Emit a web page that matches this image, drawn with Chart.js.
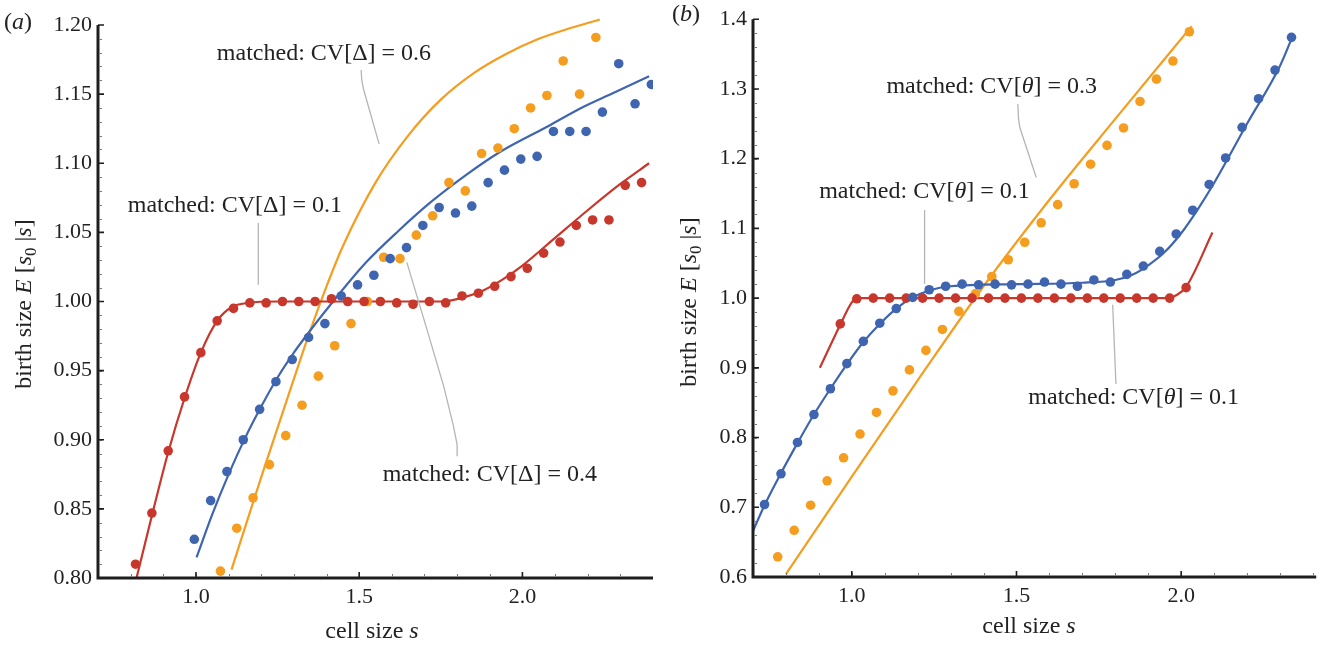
<!DOCTYPE html>
<html>
<head>
<meta charset="utf-8">
<script src="https://cdn.jsdelivr.net/npm/chart.js@4"></script>
<style>
  html, body { margin: 0; padding: 0; background: #fff; }
  #wrap { position: relative; width: 1321px; height: 645px; }
  .panel { position: absolute; top: 0; height: 645px; }
  #pa { left: 0; width: 660px; }
  #pb { left: 660px; width: 661px; }
</style>
</head>
<body>
<div id="wrap">
  <div class="panel" id="pa"><canvas id="chartA"></canvas></div>
  <div class="panel" id="pb"><canvas id="chartB"></canvas></div>
</div>
<script>
// ---- panel (a): dots = simulation, lines = matched model ----
const aRedS = [0.815,0.865,0.915,0.965,1.015,1.065,1.115,1.165,1.215,1.265,1.315,1.365,1.415,1.465,1.515,1.565,
               1.615,1.665,1.715,1.765,1.815,1.865,1.915,1.965,2.015,2.065,2.115,2.165,2.215,2.265,2.315,2.365];
const aRedE = [0.810,0.847,0.892,0.931,0.963,0.986,0.995,0.999,0.999,1.000,1.000,1.000,1.002,1.000,1.000,1.000,
               0.999,0.998,1.000,0.999,1.004,1.006,1.011,1.018,1.024,1.035,1.043,1.055,1.059,1.059,1.084,1.086];
const aRedLineS = [0.818,0.865,0.915,0.965,1.015,1.065,1.11,1.16,1.25,1.5,1.75,1.82,1.88,1.94,2.0,2.1,2.2,2.3,2.388];
const aRedLineE = [0.800,0.845,0.891,0.930,0.963,0.986,0.996,0.999,1.000,1.000,1.000,1.003,1.008,1.016,1.026,1.046,1.066,1.085,1.100];

const aBlueS = [0.995,1.045,1.095,1.145,1.195,1.245,1.295,1.345,1.395,1.445,1.495,1.545,1.595,1.645,1.695,
                1.745,1.795,1.845,1.895,1.945,1.995,2.045,2.095,2.145,2.195,2.245,2.295,2.345,2.395];
const aBlueE = [0.828,0.856,0.877,0.900,0.922,0.942,0.958,0.974,0.984,1.004,1.012,1.019,1.031,1.039,1.055,
                1.068,1.064,1.069,1.086,1.095,1.103,1.105,1.123,1.123,1.123,1.137,1.172,1.143,1.157];
const aBlueLineS = [1.002,1.05,1.1,1.15,1.2,1.25,1.3,1.35,1.42,1.52,1.62,1.72,1.83,1.93,2.08,2.18,2.28,2.388];
const aBlueLineE = [0.815,0.846,0.875,0.901,0.924,0.945,0.963,0.979,1.000,1.028,1.051,1.072,1.092,1.108,1.127,1.140,1.151,1.163];

const aOrS = [1.075,1.125,1.175,1.225,1.275,1.325,1.375,1.425,1.475,1.525,1.575,1.625,
              1.675,1.725,1.775,1.825,1.875,1.925,1.975,2.025,2.075,2.125,2.175,2.225];
const aOrE = [0.805,0.836,0.858,0.882,0.903,0.925,0.946,0.968,0.984,1.000,1.032,1.031,
              1.048,1.062,1.086,1.080,1.107,1.111,1.125,1.140,1.149,1.174,1.150,1.191];
const aOrLineS = [1.109,1.2,1.3,1.35,1.4,1.45,1.55,1.65,1.75,1.85,1.95,2.05,2.15,2.237];
const aOrLineE = [0.806,0.873,0.944,0.979,1.011,1.040,1.086,1.120,1.146,1.165,1.179,1.190,1.198,1.204];

// ---- panel (b) ----
const bBlueS = [0.735,0.785,0.835,0.885,0.935,0.985,1.035,1.085,1.135,1.185,1.235,1.285,1.335,1.385,1.435,1.485,1.535,
                1.585,1.635,1.685,1.735,1.785,1.835,1.885,1.935,1.985,2.035,2.085,2.135,2.185,2.235,2.285,2.335];
const bBlueE = [0.704,0.748,0.793,0.833,0.870,0.906,0.938,0.964,0.985,1.001,1.012,1.017,1.020,1.019,1.020,1.019,1.020,
                1.023,1.020,1.017,1.026,1.023,1.034,1.046,1.067,1.092,1.126,1.163,1.201,1.245,1.286,1.327,1.374];
const bBlueLineS = [0.70,0.735,0.785,0.835,0.885,0.935,0.985,1.035,1.085,1.135,1.185,1.235,1.3,1.5,1.7,1.8,1.85,1.9,1.95,2.0,2.05,2.1,2.2,2.3,2.337];
const bBlueLineE = [0.666,0.703,0.749,0.792,0.833,0.870,0.905,0.937,0.963,0.985,1.001,1.011,1.017,1.020,1.022,1.026,1.033,1.047,1.066,1.093,1.127,1.165,1.250,1.333,1.374];

const bRedS = [0.965,1.015,1.065,1.115,1.165,1.215,1.265,1.315,1.365,1.415,1.465,1.515,1.565,1.615,1.665,1.715,1.765,1.815,1.865,1.915,1.965,2.015];
const bRedE = [0.963,0.999,1.000,1.000,1.000,1.000,1.000,1.000,1.000,1.000,1.000,1.000,1.000,1.000,1.000,1.000,1.000,1.000,1.000,1.000,1.000,1.015];
const bRedLineS = [0.903,0.966,1.0,1.015,1.05,1.5,1.96,1.985,2.015,2.095];
const bRedLineE = [0.900,0.963,0.994,1.000,1.000,1.000,1.000,1.004,1.016,1.094];

const bOrS = [0.775,0.825,0.875,0.925,0.975,1.025,1.075,1.125,1.175,1.225,1.275,1.325,1.375,
              1.425,1.475,1.525,1.575,1.625,1.675,1.725,1.775,1.825,1.875,1.925,1.975,2.025];
const bOrE = [0.629,0.667,0.703,0.738,0.771,0.805,0.836,0.867,0.897,0.925,0.955,0.981,1.006,
              1.031,1.055,1.080,1.108,1.134,1.164,1.192,1.219,1.244,1.282,1.314,1.340,1.382];
const bOrLineS = [0.80,1.0,1.2,1.4,1.6,1.8,2.032];
const bOrLineE = [0.604,0.744,0.882,1.017,1.141,1.257,1.390];

// ---- ticks ----
const xTicks = [1.0, 1.5, 2.0];
const xLabels = ['1.0', '1.5', '2.0'];
const yTicksA = [0.80,0.85,0.90,0.95,1.00,1.05,1.10,1.15,1.20];
const yLabelsA = ['0.80','0.85','0.90','0.95','1.00','1.05','1.10','1.15','1.20'];
const yTicksB = [0.6,0.7,0.8,0.9,1.0,1.1,1.2,1.3,1.4];
const yLabelsB = ['0.6','0.7','0.8','0.9','1.0','1.1','1.2','1.3','1.4'];

const RED = '#c8372b', BLUE = '#3f65b0', ORANGE = '#f59d1e';
const SERIF = '"Liberation Serif", "Times New Roman", serif';

function pts(xs, ys) { return xs.map((x, i) => ({ x: x, y: ys[i] })); }

function dots(xs, ys, color) {
    return { data: pts(xs, ys), backgroundColor: color, borderWidth: 0, pointRadius: 4.8, showLine: false };
}
function curve(xs, ys, color, extra) {
    return Object.assign({ data: pts(xs, ys), borderColor: color, borderWidth: 2.2, pointRadius: 0,
        showLine: true, fill: false, cubicInterpolationMode: 'monotone' }, extra || {});
}

// draws text made of pieces: n = upright, i = italic, s = subscript
function drawRich(ctx, x, y, parts, size, align) {
    const fonts = { n: size + 'px ' + SERIF, i: 'italic ' + size + 'px ' + SERIF, s: Math.round(size * 0.7) + 'px ' + SERIF };
    let total = 0;
    const widths = parts.map(p => { ctx.font = fonts[p[1]]; const w = ctx.measureText(p[0]).width; total += w; return w; });
    let cx = align === 'center' ? x - total / 2 : x;
    parts.forEach((p, i) => {
        ctx.font = fonts[p[1]];
        ctx.fillText(p[0], cx, p[1] === 's' ? y + size * 0.22 : y);
        cx += widths[i];
    });
}

const yTitle = [['birth size ', 'n'], ['E', 'i'], [' [', 'n'], ['s', 'i'], ['0', 's'], [' |', 'n'], ['s', 'i'], [']', 'n']];
const xTitle = [['cell size ', 'n'], ['s', 'i']];

function makeOverlay(cfg) {
    return {
        id: 'overlay',
        afterDatasetsDraw(chart) {
            const ctx = chart.ctx, xs = chart.scales.x, ys = chart.scales.y, area = chart.chartArea;
            ctx.save();
            // leader lines
            ctx.strokeStyle = '#b5b5b5';
            ctx.lineWidth = 1.3;
            cfg.leaders.forEach(line => {
                ctx.beginPath();
                line.forEach((p, i) => {
                    const px = xs.getPixelForValue(p[0]), py = ys.getPixelForValue(p[1]);
                    if (i === 0) ctx.moveTo(px, py); else ctx.lineTo(px, py);
                });
                ctx.stroke();
            });
            // axis lines
            ctx.strokeStyle = '#1e1e1e';
            ctx.lineWidth = 3;
            ctx.beginPath();
            ctx.moveTo(area.left, area.top);
            ctx.lineTo(area.left, area.bottom);
            ctx.lineTo(area.right, area.bottom);
            ctx.stroke();
            // minor ticks
            ctx.strokeStyle = '#777';
            ctx.lineWidth = 1;
            ctx.beginPath();
            for (let v = cfg.xMin + cfg.xMinor; v < cfg.xMax - 1e-9; v += cfg.xMinor) {
                const px = Math.round(xs.getPixelForValue(v)) + 0.5;
                ctx.moveTo(px, area.bottom - 1.5); ctx.lineTo(px, area.bottom - 4);
            }
            for (let v = cfg.yMin + cfg.yMinor; v < cfg.yMax - 1e-9; v += cfg.yMinor) {
                const py = Math.round(ys.getPixelForValue(v)) + 0.5;
                ctx.moveTo(area.left + 1.5, py); ctx.lineTo(area.left + 4, py);
            }
            ctx.stroke();
            // major ticks
            ctx.strokeStyle = '#1e1e1e';
            ctx.lineWidth = 1.6;
            ctx.beginPath();
            cfg.xTicks.forEach(v => {
                const px = xs.getPixelForValue(v);
                ctx.moveTo(px, area.bottom); ctx.lineTo(px, area.bottom - 6);
            });
            cfg.yTicks.forEach(v => {
                const py = ys.getPixelForValue(v);
                ctx.moveTo(area.left, py); ctx.lineTo(area.left + 6, py);
            });
            ctx.stroke();
            // texts
            ctx.fillStyle = '#222';
            ctx.textAlign = 'left';
            ctx.textBaseline = 'alphabetic';
            cfg.notes.forEach(n => {
                drawRich(ctx, xs.getPixelForValue(n.x), ys.getPixelForValue(n.y), n.parts, 24, 'left');
            });
            drawRich(ctx, cfg.xTitlePos[0], cfg.xTitlePos[1], xTitle, 24, 'center');
            ctx.save();
            ctx.translate(cfg.yTitlePos[0], cfg.yTitlePos[1]);
            ctx.rotate(-Math.PI / 2);
            drawRich(ctx, 0, 0, yTitle, 24, 'center');
            ctx.restore();
            drawRich(ctx, cfg.tagPos[0], cfg.tagPos[1], [['(', 'n'], [cfg.tag, 'i'], [')', 'n']], 24, 'left');
            ctx.restore();
        }
    };
}

function makeChart(id, datasets, opt) {
    const tickFont = { family: SERIF, size: 22 };
    return new Chart(document.getElementById(id), {
        type: 'scatter',
        data: { datasets: datasets },
        options: {
            responsive: true,
            maintainAspectRatio: false,
            animation: false,
            events: [],
            layout: { padding: opt.padding },
            plugins: { legend: { display: false }, tooltip: { enabled: false } },
            scales: {
                x: {
                    type: 'linear', min: opt.xMin, max: opt.xMax,
                    afterBuildTicks: s => { s.ticks = opt.xTicks.map(v => ({ value: v })); },
                    afterFit: s => { s.height = opt.xHeight; },
                    ticks: { callback: (v, i) => opt.xLabels[i], font: tickFont, color: '#222', padding: 6, maxRotation: 0, autoSkip: false },
                    grid: { display: false, drawTicks: false },
                    border: { display: false }
                },
                y: {
                    type: 'linear', min: opt.yMin, max: opt.yMax,
                    afterBuildTicks: s => { s.ticks = opt.yTicks.map(v => ({ value: v })); },
                    afterFit: s => { s.width = opt.yWidth; },
                    ticks: { callback: (v, i) => opt.yLabels[i], font: tickFont, color: '#222', padding: 6, autoSkip: false },
                    grid: { display: false, drawTicks: false },
                    border: { display: false }
                }
            }
        },
        plugins: [makeOverlay(opt)]
    });
}

makeChart('chartA', [
    dots(aRedS, aRedE, RED),
    dots(aBlueS, aBlueE, BLUE),
    dots(aOrS, aOrE, ORANGE),
    curve(aRedLineS, aRedLineE, RED),
    curve(aBlueLineS, aBlueLineE, BLUE),
    curve(aOrLineS, aOrLineE, ORANGE, { clip: false })
], {
    padding: { top: 25, right: 7, left: 0, bottom: 0 },
    xMin: 0.7, xMax: 2.4, yMin: 0.8, yMax: 1.2, xMinor: 0.1, yMinor: 0.01,
    xTicks: xTicks, xLabels: xLabels, yTicks: yTicksA, yLabels: yLabelsA,
    xHeight: 67, yWidth: 98,
    notes: [
        { parts: [['matched: CV[', 'n'], ['\u0394', 'n'], ['] = 0.6', 'n']], x: 1.064, y: 1.1747 },
        { parts: [['matched: CV[', 'n'], ['\u0394', 'n'], ['] = 0.1', 'n']], x: 0.791, y: 1.0648 },
        { parts: [['matched: CV[', 'n'], ['\u0394', 'n'], ['] = 0.4', 'n']], x: 1.572, y: 0.8699 }
    ],
    leaders: [
        [[1.506, 1.1675], [1.508, 1.160], [1.514, 1.153], [1.561, 1.114]],
        [[1.191, 1.0567], [1.191, 1.0121]],
        [[1.80, 0.888], [1.80, 0.8965], [1.789, 0.9097], [1.759, 0.9386], [1.708, 0.9795], [1.646, 1.0283]]
    ],
    xTitlePos: [372, 638], yTitlePos: [31, 304], tag: 'a', tagPos: [4, 29]
});

makeChart('chartB', [
    dots(bBlueS, bBlueE, BLUE),
    dots(bRedS, bRedE, RED),
    dots(bOrS, bOrE, ORANGE),
    curve(bBlueLineS, bBlueLineE, BLUE),
    curve(bRedLineS, bRedLineE, RED),
    curve(bOrLineS, bOrLineE, ORANGE)
], {
    padding: { top: 15, right: 3, left: 0, bottom: 0 },
    xMin: 0.7, xMax: 2.41, yMin: 0.6, yMax: 1.4, xMinor: 0.1, yMinor: 0.02,
    xTicks: xTicks, xLabels: xLabels, yTicks: yTicksB, yLabels: yLabelsB,
    xHeight: 68, yWidth: 93,
    notes: [
        { parts: [['matched: CV[', 'n'], ['\u03b8', 'i'], ['] = 0.3', 'n']], x: 1.105, y: 1.2948 },
        { parts: [['matched: CV[', 'n'], ['\u03b8', 'i'], ['] = 0.1', 'n']], x: 0.901, y: 1.144 },
        { parts: [['matched: CV[', 'n'], ['\u03b8', 'i'], ['] = 0.1', 'n']], x: 1.536, y: 0.8484 }
    ],
    leaders: [
        [[1.504, 1.2784], [1.506, 1.2584], [1.51, 1.245], [1.560, 1.173]],
        [[1.221, 1.1263], [1.221, 1.0204]],
        [[1.802, 0.8769], [1.792, 0.9905]]
    ],
    xTitlePos: [369, 633], yTitlePos: [36, 302], tag: 'b', tagPos: [12, 21]
});
</script>
</body>
</html>
